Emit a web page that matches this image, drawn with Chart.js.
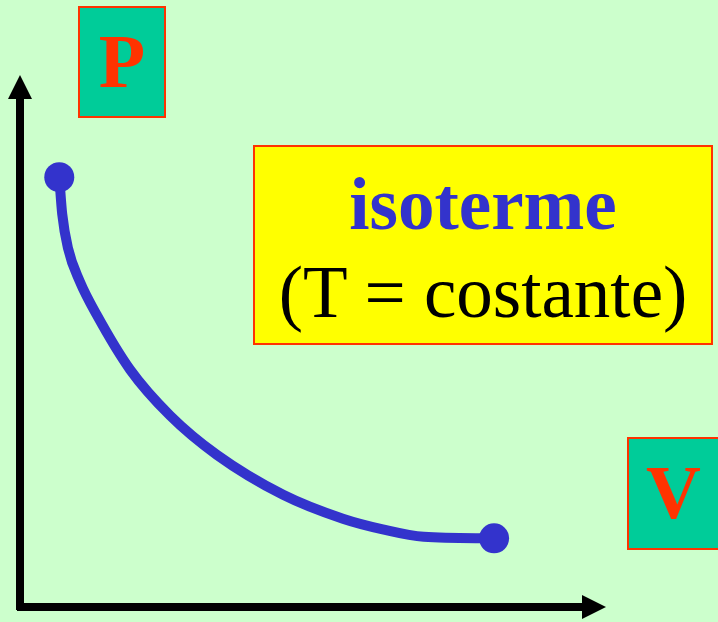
<!DOCTYPE html>
<html>
<head>
<meta charset="utf-8">
<script src="https://cdn.jsdelivr.net/npm/chart.js@4.4.1/dist/chart.umd.min.js"></script>
<style>
  body { margin: 0; background: #CCFFCC; }
  #wrap { position: relative; width: 718px; height: 622px; overflow: hidden; }
  .box { position: absolute; box-sizing: border-box; border: 2px solid #FF3300;
         font-family: "Liberation Serif", "Times New Roman", serif; text-align: center; }
  .axisbox { background: #00CC99; color: #FF3300; font-weight: bold; font-size: 76px; }
</style>
</head>
<body>
<div id="wrap">
  <canvas id="isoChart" width="718" height="622"></canvas>
  <div class="box axisbox" style="left:78px; top:6px; width:88px; height:112px; line-height:106px;">P</div>
  <div class="box axisbox" style="left:627px; top:437px; width:95px; height:113px; line-height:106px; padding-right:2px;">V</div>
  <div class="box" style="left:253px; top:145px; width:460px; height:200px; background:#FFFF00;">
    <div style="position:absolute; left:0; right:0; top:18px; font-size:73px; font-weight:bold; color:#3333CC; line-height:80px;">isoterme</div>
    <div style="position:absolute; left:0; right:0; top:106px; font-size:73px; color:#000; line-height:80px;">(T = costante)</div>
  </div>
</div>
<script>
// values (V, P in arbitrary units)
const volume = [0.67, 0.72, 0.82, 1.02, 1.31, 1.88, 2.56, 3.36, 4.49, 5.51, 6.19, 6.89, 8.09];
const pressure = [8.08, 7.39, 6.74, 6.12, 5.49, 4.46, 3.60, 2.86, 2.11, 1.66, 1.46, 1.32, 1.29];

const points = volume.map((v, i) => ({ x: v, y: pressure[i] }));

// draws the two black arrows for the axes
const arrowAxes = {
    id: 'arrowAxes',
    beforeDatasetsDraw(chart) {
        const ctx = chart.ctx;
        const area = chart.chartArea;
        const x0 = chart.scales.x.getPixelForValue(0);
        const y0 = chart.scales.y.getPixelForValue(0);
        ctx.save();
        ctx.fillStyle = '#000';
        ctx.strokeStyle = '#000';
        ctx.lineWidth = 8;
        ctx.beginPath();
        ctx.moveTo(x0, y0 + 3);
        ctx.lineTo(x0, area.top + 20);
        ctx.moveTo(x0 - 3, y0);
        ctx.lineTo(area.right - 20, y0);
        ctx.stroke();
        // arrow heads
        ctx.beginPath();
        ctx.moveTo(x0, area.top);
        ctx.lineTo(x0 - 12, area.top + 24);
        ctx.lineTo(x0 + 12, area.top + 24);
        ctx.closePath();
        ctx.fill();
        ctx.beginPath();
        ctx.moveTo(area.right, y0);
        ctx.lineTo(area.right - 24, y0 - 12);
        ctx.lineTo(area.right - 24, y0 + 12);
        ctx.closePath();
        ctx.fill();
        ctx.restore();
    }
};

const ctx = document.getElementById('isoChart').getContext('2d');
new Chart(ctx, {
    type: 'line',
    data: {
        datasets: [{
            label: 'isoterma',
            data: points,
            borderColor: '#3333CC',
            backgroundColor: '#3333CC',
            borderWidth: 10,
            borderCapStyle: 'round',
            cubicInterpolationMode: 'monotone',
            pointRadius: c => (c.dataIndex === 0 || c.dataIndex === points.length - 1) ? 15 : 0,
            pointBorderWidth: 0,
            pointHoverRadius: 0
        }]
    },
    options: {
        responsive: false,
        animation: false,
        layout: { padding: { left: 20, right: 112, top: 75, bottom: 11 } },
        scales: {
            x: { type: 'linear', min: 0, max: 10, display: false },
            y: { type: 'linear', min: 0, max: 10, display: false }
        },
        plugins: {
            legend: { display: false },
            tooltip: { enabled: false }
        }
    },
    plugins: [arrowAxes]
});
</script>
</body>
</html>
